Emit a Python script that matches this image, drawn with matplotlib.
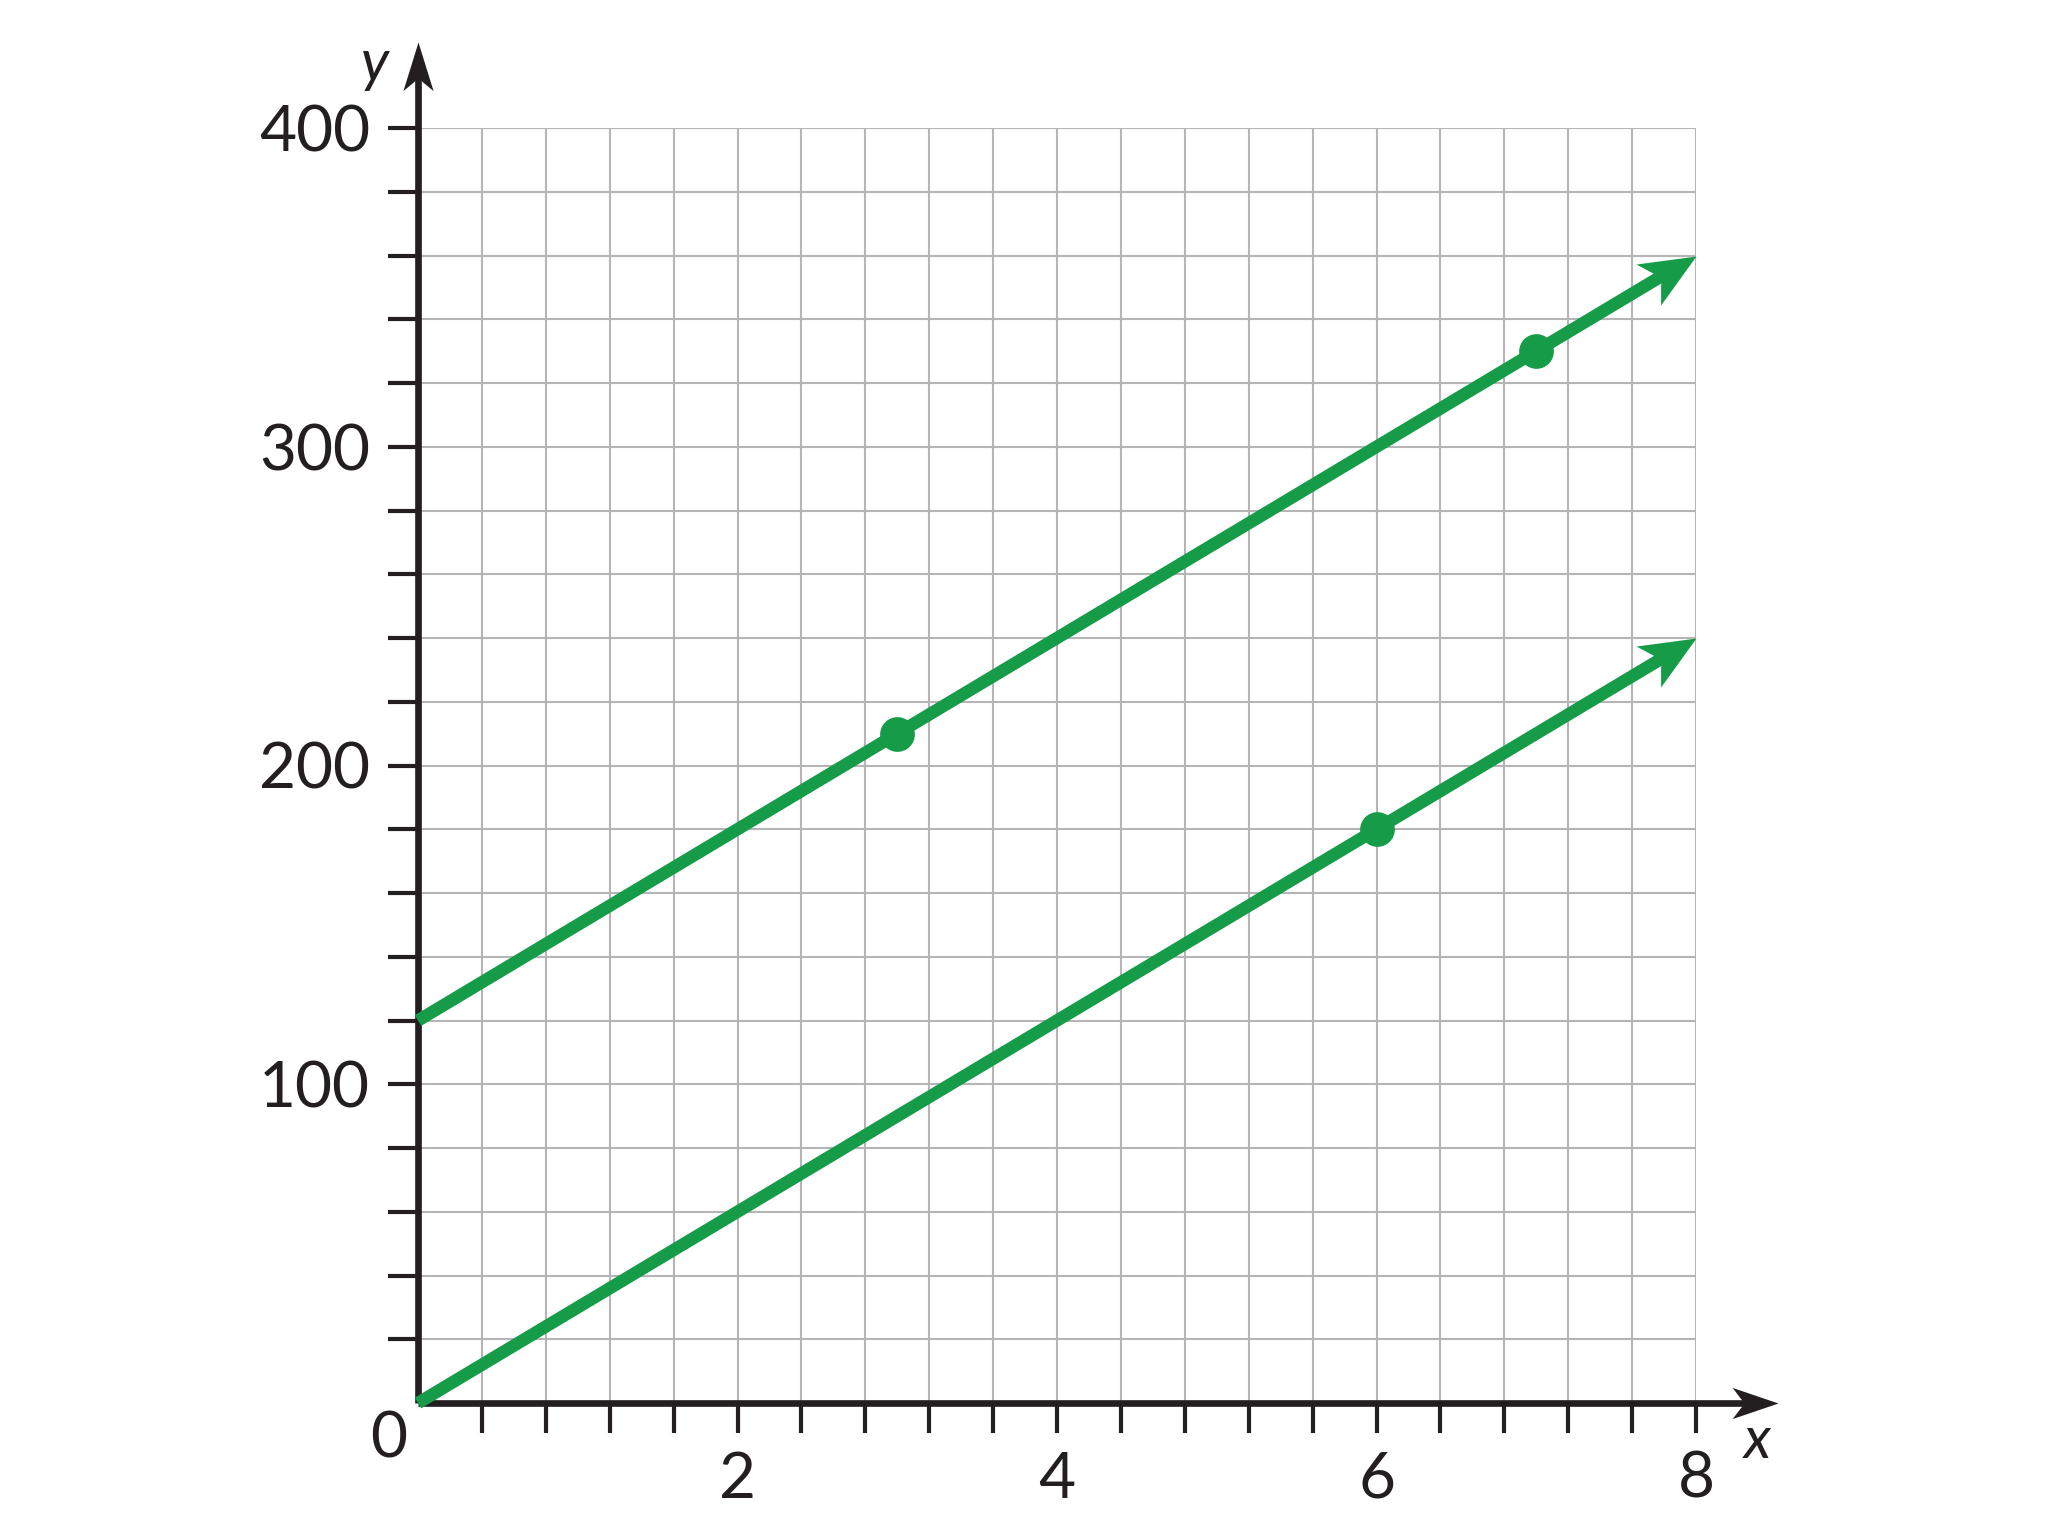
import numpy as np
import matplotlib
matplotlib.use('Agg')
import matplotlib.pyplot as plt
from matplotlib.path import Path
from matplotlib.markers import MarkerStyle
from matplotlib.transforms import Affine2D

plt.rcParams['font.family'] = ['Lato', 'DejaVu Sans']

# data
line_a_x = [0, 3, 7, 8]
line_a_y = [120, 210, 330, 360]
line_b_x = [0, 6, 8]
line_b_y = [0, 180, 240]
dots_x = [3, 7, 6]
dots_y = [210, 330, 180]

x_tick_vals = np.arange(0.4, 8.01, 0.4)
y_tick_vals = np.arange(20, 401, 20)
x_labels = [2, 4, 6, 8]
y_labels = [100, 200, 300, 400]

GREEN = '#169c49'
INK = '#231f20'
GRID = '#b5b5b5'
DPI = 100


def head_marker(angle, h):
    # concave arrowhead, tip at origin, pointing along +x
    verts = [(0, 0), (-1, h), (-0.82, 0.3 * h), (-0.72, 0), (-0.82, -0.3 * h), (-1, -h), (0, 0)]
    codes = [Path.MOVETO] + [Path.LINETO] * 5 + [Path.CLOSEPOLY]
    return MarkerStyle(Path(verts, codes), transform=Affine2D().rotate_deg(angle))


def arrow(ax, xs, ys, trans, color, lw, ms, h, back_px):
    """Line through points with arrowhead at the last point."""
    pts = trans.transform(np.column_stack([xs, ys]))
    d = pts[-1] - pts[-2]
    ang = np.degrees(np.arctan2(d[1], d[0]))
    unit = d / np.hypot(*d)
    short = pts.copy()
    short[-1] = pts[-1] - unit * back_px
    sd = trans.inverted().transform(short)
    ax.plot(sd[:, 0], sd[:, 1], color=color, lw=lw, solid_capstyle='butt',
            transform=trans, clip_on=False, zorder=5)
    ax.plot([xs[-1]], [ys[-1]], marker=head_marker(ang, h), ms=ms, color=color,
            mew=0, transform=trans, clip_on=False, zorder=6)


fig = plt.figure(figsize=(2048 / DPI, 1536 / DPI), dpi=DPI)
ax = fig.add_axes([418 / 2048, 133 / 1536, 1278 / 2048, 1275 / 1536])
ax.set_xlim(0, 8)
ax.set_ylim(0, 400)
for s in ax.spines.values():
    s.set_visible(False)

ax.set_xticks(x_tick_vals)
ax.set_yticks(y_tick_vals)
ax.set_xticklabels([])
ax.set_yticklabels([])
ax.tick_params(direction='out', length=21.6, width=3, color=INK)
ax.grid(True, color=GRID, lw=1.5, zorder=0)
ax.set_axisbelow(True)

# axes with arrows (in axes fraction)
arrow(ax, [0, 1.064], [0, 0], ax.transAxes, INK, 4.8, 66, 0.34, 18)
arrow(ax, [0, 0], [0, 1.0675], ax.transAxes, INK, 4.8, 70, 0.31, 18)

# green lines
arrow(ax, line_a_x, line_a_y, ax.transData, GREEN, 9, 80, 0.43, 22)
arrow(ax, line_b_x, line_b_y, ax.transData, GREEN, 9, 80, 0.43, 22)
ax.plot(dots_x, dots_y, 'o', color=GREEN, ms=25, mew=0, zorder=7)

# tick labels
for v in x_labels:
    ax.annotate(str(v), xy=(v, 0), xytext=(0, -68.4), textcoords='offset points',
                ha='center', va='baseline', fontsize=46, color=INK, annotation_clip=False)
for v in y_labels:
    ax.annotate(str(v), xy=(0, v), xytext=(-34.6, -16.9), textcoords='offset points',
                ha='right', va='baseline', fontsize=46, color=INK, annotation_clip=False)
ax.annotate('0', xy=(0, 0), xytext=(-21, -38.9), textcoords='offset points',
            ha='center', va='baseline', fontsize=46, color=INK, annotation_clip=False)

# axis names
ax.annotate('y', xy=(0, 400), xytext=(-31, 46), textcoords='offset points',
            ha='center', va='center', fontsize=42, style='italic', color=INK,
            annotation_clip=False)
ax.annotate('x', xy=(8, 0), xytext=(44, -28), textcoords='offset points',
            ha='center', va='center', fontsize=42, style='italic', color=INK,
            annotation_clip=False)

fig.savefig('out.png', dpi=DPI)
